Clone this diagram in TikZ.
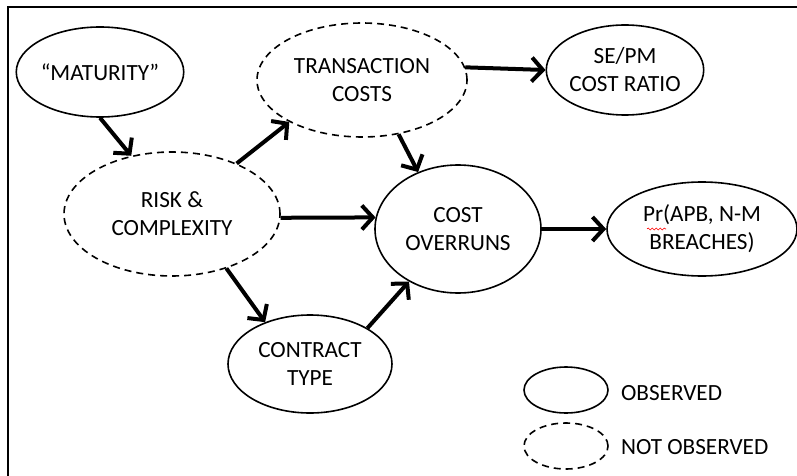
\documentclass[tikz,border=0pt]{standalone}
\usepackage{fontspec}
\setmainfont{Carlito}
\usetikzlibrary{positioning,arrows.meta,shapes.geometric,decorations.pathmorphing}

\begin{document}
\begin{tikzpicture}[x=0.5pt, y=-0.5pt,
    >={Straight Barb[length=5.5pt, width=12pt]},
    every node/.style={font=\fontsize{11.6}{14}\selectfont, align=center},
    obs/.style={ellipse, draw, line width=0.8pt, inner sep=0pt},
    unobs/.style={obs, dash pattern=on 3.5pt off 2.5pt},
    link/.style={->, line width=2pt}]

    \useasboundingbox (0,0) rectangle (797,476);

    % ================= FRAME =================
    \draw[line width=1.2pt] (8,476) -- (8,7) -- (797,7);

    % ================= VARIABLES =================
    \node[obs, minimum width=83pt, minimum height=45pt] (mat) at (100,72) {``MATURITY''};
    \node[unobs, minimum width=105pt, minimum height=57pt] (trans) at (362,80) {TRANSACTION\\COSTS};
    \node[obs, minimum width=78pt, minimum height=45pt] (sepm) at (625,70) {SE/PM\\COST RATIO};
    \node[unobs, minimum width=108pt, minimum height=62pt] (risk) at (172,214) {RISK \&\\COMPLEXITY};
    \node[obs, minimum width=83pt, minimum height=64pt] (cost) at (458,229) {COST\\OVERRUNS};
    \node[obs, minimum width=95pt, minimum height=47pt] (pr) at (702,229) {Pr(APB, N-M\\BREACHES)};
    \node[obs, minimum width=82pt, minimum height=49pt] (contract) at (310,364) {CONTRACT\\TYPE};

    % spell-check squiggle under "Pr"
    \draw[red, line width=0.3pt, decorate, decoration={snake, amplitude=0.5pt, segment length=2pt}] (647,229) -- (666,229);

    % ================= LEGEND =================
    \node[obs, minimum width=42pt, minimum height=23pt] (legobs) at (566,390) {};
    \node[anchor=west] (legobstext) at (614,393) {OBSERVED};
    \node[unobs, minimum width=42pt, minimum height=23pt] (legun) at (566,446) {};
    \node[anchor=west] (leguntext) at (614,447) {NOT OBSERVED};

    % ================= ARROWS =================
    \draw[link] (mat.270) -- (risk.125);
    \draw[link] (risk.38) -- (trans.210);
    \draw[link] (risk.358) -- (cost.172);
    \draw[link] (risk.315) -- (contract.137);
    \draw[link] (trans.304) -- (cost.125);
    \draw[link] (trans.7) -- (sepm.180);
    \draw[link] (contract.32) -- (cost.227);
    \draw[link] (cost.east) -- (pr.west);

\end{tikzpicture}
\end{document}
